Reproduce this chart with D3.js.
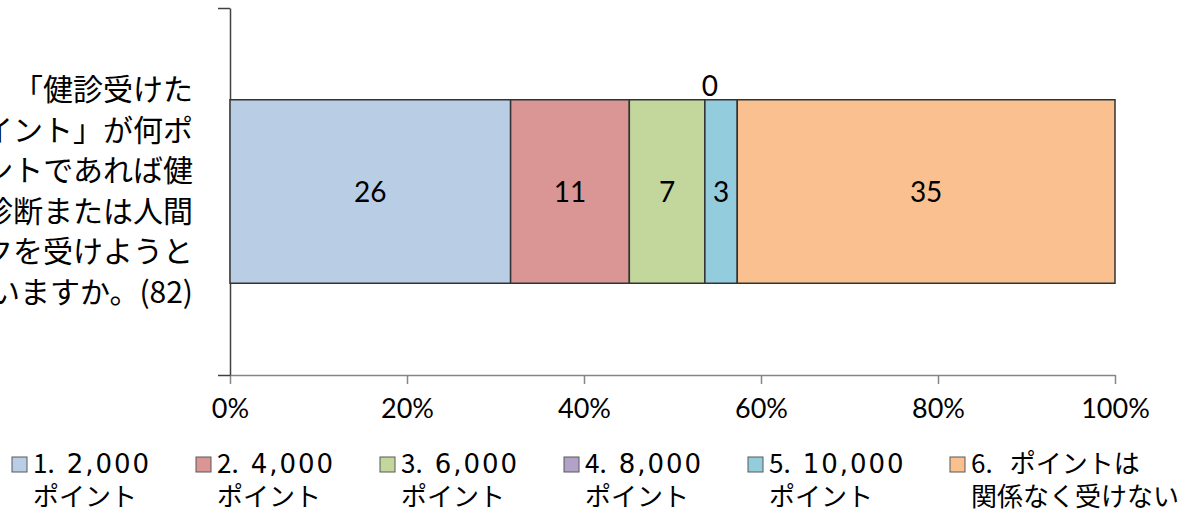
<!DOCTYPE html>
<html>
<head>
<meta charset="utf-8">
<script src="https://cdn.jsdelivr.net/npm/d3@7"></script>
<style>
  body { margin: 0; background: #fff; }
  svg { display: block; }
</style>
</head>
<body>
<script>
// category label (wrapped the way the original shows it)
const labelLines = ["「健診受けた", "ポイント」が何ポ", "イントであれば健", "康診断または人間", "ドックを受けようと", "思いますか。(82)"]
const categories = ["q1"]

// series
const seriesNames = [
    ["1.\u30002,000", "ポイント"],
    ["2.\u30004,000", "ポイント"],
    ["3.\u30006,000", "ポイント"],
    ["4.\u30008,000", "ポイント"],
    ["5.\u300010,000", "ポイント"],
    ["6.\u3000ポイントは", "関係なく受けない"]
]
const values = [26, 11, 7, 0, 3, 35]
const colors = ["#B9CDE5", "#D99694", "#C3D69B", "#B3A2C7", "#93CDDD", "#FAC090"]
const tickValues = [0, 0.2, 0.4, 0.6, 0.8, 1]

const W = 1188, H = 515
const margin = { top: 8, right: 73, bottom: 140, left: 230 }
    , width = W - margin.left - margin.right
    , height = H - margin.top - margin.bottom

const jpFont = '"Noto Sans CJK JP", sans-serif'
const numFont = 'Lato, "Noto Sans", sans-serif'
const wideNumFont = '"DejaVu Sans", sans-serif'

const svg = d3.select('body').append('svg')
    .attr('width', W)
    .attr('height', H)

const x = d3.scaleLinear()
    .domain([0, 1])
    .range([margin.left, margin.left + width])

const y = d3.scaleBand()
    .domain(categories)
    .range([margin.top, margin.top + height])
    .paddingInner(0)
    .paddingOuter(0.5)

// stack the values into shares of the total
const total = d3.sum(values)
let acc = 0
const segments = values.map((v, i) => {
    const s = { value: v, x0: acc / total, x1: (acc + v) / total, color: colors[i] }
    acc += v
    return s
})

// x axis
const xAxis = svg.append('g')
    .attr('transform', 'translate(0,' + (margin.top + height) + ')')
    .call(d3.axisBottom(x)
        .tickValues(tickValues)
        .tickFormat(d3.format('.0%'))
        .tickSizeInner(9)
        .tickSizeOuter(0)
        .tickPadding(15))
xAxis.select('.domain').attr('stroke', '#868686').attr('stroke-width', 1.5)
xAxis.selectAll('.tick line').attr('stroke', '#868686').attr('stroke-width', 1.5)
xAxis.selectAll('.tick text')
    .attr('fill', '#000')
    .style('font-family', numFont)
    .style('font-size', '27px')

// category axis with tick marks at the band edges
const yEdges = d3.scaleLinear().domain([0, 1]).range([margin.top + height, margin.top])
const yAxis = svg.append('g')
    .attr('transform', 'translate(' + margin.left + ',0)')
    .call(d3.axisLeft(yEdges).tickValues([0, 1]).tickFormat('').tickSize(12).tickSizeOuter(0))
yAxis.select('.domain').attr('stroke', '#404040').attr('stroke-width', 1.5)
yAxis.selectAll('.tick line').attr('stroke', '#404040').attr('stroke-width', 1.5)

// bar segments
const bar = svg.append('g')
bar.selectAll('rect').data(segments)
    .enter()
    .append('rect')
    .attr('x', d => x(d.x0))
    .attr('y', y(categories[0]))
    .attr('width', d => x(d.x1) - x(d.x0))
    .attr('height', y.bandwidth())
    .attr('fill', d => d.color)
    .attr('stroke', '#333')
    .attr('stroke-width', 1.5)

// value labels; a zero share sits above the bar
const yMid = y(categories[0]) + y.bandwidth() / 2
bar.selectAll('text').data(segments)
    .enter()
    .append('text')
    .attr('x', d => d.value === 0 ? x(d.x0) + 5 : (x(d.x0) + x(d.x1)) / 2)
    .attr('y', d => d.value === 0 ? y(categories[0]) - 4 : yMid)
    .attr('dy', d => d.value === 0 ? 0 : '0.36em')
    .attr('text-anchor', 'middle')
    .style('font-family', numFont)
    .style('font-size', '28px')
    .attr('fill', '#000')
    .text(d => d.value)

// category label, right aligned against the axis and clipped by the page edge
const lineH = 40.5
const label = svg.append('text')
    .attr('text-anchor', 'end')
    .style('font-family', jpFont)
    .style('font-size', '30px')
    .attr('fill', '#000')
label.selectAll('tspan').data(labelLines)
    .enter()
    .append('tspan')
    .attr('x', margin.left - 37)
    .attr('y', (d, i) => yMid + (i - (labelLines.length - 1) / 2) * lineH + 10)
    .text(d => d)

// legend
const legend = svg.append('g')
    .attr('transform', 'translate(0,' + 457 + ')')
const item = legend.selectAll('g').data(seriesNames)
    .enter()
    .append('g')
    .attr('transform', (d, i) => 'translate(' + (12 + i * 184 + (i === seriesNames.length - 1 ? 18 : 0)) + ',0)')

item.append('rect')
    .attr('width', 15)
    .attr('height', 15)
    .attr('fill', (d, i) => colors[i])
    .attr('stroke', '#595959')
    .attr('stroke-width', 1)

// first line: number prefix, then the amount (wide digits) or words
const first = item.append('text')
    .style('font-family', jpFont)
    .style('font-size', '26px')
    .attr('fill', '#000')
    .attr('x', 21)
    .attr('y', 16)
first.append('tspan')
    .text(d => d[0].split('\u3000')[0])
first.append('tspan')
    .each(function (d) {
        const rest = d[0].split('\u3000')[1]
        const isNum = /^[\d,]+$/.test(rest)
        d3.select(this)
            .attr('dx', isNum ? 12 : 17)
            .style('font-family', isNum ? wideNumFont : jpFont)
            .style('letter-spacing', isNum ? '2px' : null)
            .text(rest)
    })

item.append('text')
    .style('font-family', jpFont)
    .style('font-size', '26px')
    .attr('fill', '#000')
    .attr('x', 21)
    .attr('y', 49)
    .text(d => d[1])
</script>
</body>
</html>
